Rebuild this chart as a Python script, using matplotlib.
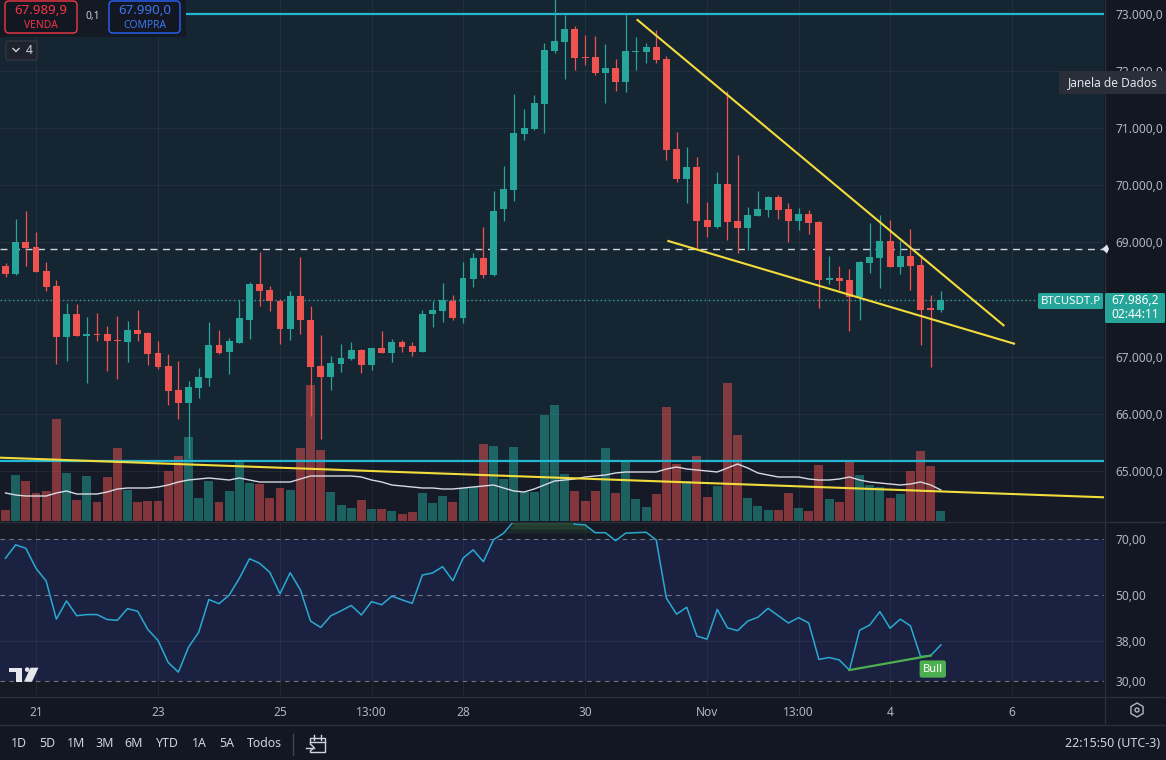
import numpy as np
import matplotlib
matplotlib.use("Agg")
import matplotlib.pyplot as plt
import matplotlib.transforms as mtransforms
from matplotlib.patches import FancyBboxPatch, Rectangle, Polygon, Circle, RegularPolygon
from matplotlib.lines import Line2D
from matplotlib.ticker import FixedLocator, NullLocator

plt.rcParams['font.family'] = ['Noto Sans', 'DejaVu Sans']

# ---------------- data (4h candles, index 0 = 21 Oct 01:00 UTC-3) ----------------
candle_index = list(range(-3, 90))
opens = [68595, 68455, 69014, 68927, 68507, 68245, 67341, 67755, 67358, 67388,
         67388, 67283, 67254, 67458, 67406, 67061, 66829, 66409, 66182, 66444,
         66619, 67196, 67074, 67243, 67650, 68280, 68175, 67982, 67476, 68070,
         67650, 66829, 66636, 66869, 66951, 67108, 66851, 67143, 67061, 67248,
         67178, 67074, 67743, 67796, 67982, 67668, 68368, 68734, 68437, 69591,
         69923, 70902, 70990, 71427, 72353, 72511, 72738, 72248, 72248, 71969,
         72056, 71811, 72336, 72336, 72423, 72214, 70640, 70116, 70325, 69399,
         69276, 70028, 69381, 69259, 69469, 69573, 69801, 69591, 69381, 69504,
         69364, 68350, 68385, 68350, 68053, 68647, 68734, 69032, 68577, 68769,
         68612, 67843, 67825]
highs = [68647, 69411, 69551, 69184, 68659, 68350, 67942, 67925, 67691, 67768,
         67528, 67720, 67628, 67825, 67428, 67278, 67039, 66916, 66567, 66794,
         67610, 67458, 67318, 68000, 68303, 68839, 68245, 68018, 68157, 68752,
         67895, 67371, 67004, 67219, 67248, 67138, 67156, 67441, 67301, 67283,
         67248, 67825, 67983, 68297, 68088, 68664, 68822, 69276, 69906, 70331,
         71602, 71339, 71584, 72498, 73400, 72983, 72790, 72633, 72616, 72476,
         72214, 73000, 72598, 72493, 72721, 72266, 70925, 70675, 70500, 69713,
         70238, 71654, 70535, 69626, 69906, 69818, 69836, 69696, 69609, 69574,
         69381, 68769, 68595, 68542, 68682, 69346, 69486, 69399, 69032, 69241,
         68787, 68088, 68157]
lows = [68402, 68425, 68582, 68490, 68145, 66864, 66921, 67353, 66537, 67271,
        66747, 66601, 66904, 67271, 66851, 66776, 66152, 65902, 65220, 66281,
        66479, 67039, 66689, 67243, 67313, 67883, 67796, 67219, 67289, 67388,
        65955, 65553, 66409, 66724, 66934, 66706, 66759, 67056, 66899, 67079,
        67009, 67074, 67516, 67598, 67650, 67586, 68215, 68385, 68420, 69381,
        69731, 70797, 70972, 70908, 72324, 71864, 72021, 72109, 71934, 71444,
        71654, 71637, 72021, 72144, 72144, 70448, 70051, 69696, 68874, 69102,
        69259, 69049, 68822, 68874, 69469, 69451, 69416, 69014, 69224, 69154,
        67843, 68280, 68175, 67441, 67650, 68472, 68210, 68577, 68455, 68175,
        67196, 66811, 67773]
closes = [68455, 69014, 68909, 68490, 68227, 67341, 67755, 67358, 67388, 67371,
          67271, 67275, 67458, 67388, 67044, 66811, 66392, 66182, 66462, 66636,
          67196, 67068, 67266, 67668, 68280, 68157, 67970, 67476, 68070, 67633,
          66811, 66636, 66886, 66969, 67108, 66851, 67143, 67056, 67248, 67166,
          67074, 67755, 67808, 67988, 67668, 68385, 68734, 68437, 69556, 69941,
          70920, 71007, 71444, 72371, 72528, 72738, 72231, 72231, 71969, 72056,
          71811, 72353, 72353, 72423, 72196, 70623, 70116, 70325, 69381, 69276,
          70028, 69364, 69259, 69486, 69591, 69801, 69573, 69381, 69504, 69346,
          68350, 68385, 68332, 68053, 68664, 68752, 69032, 68577, 68769, 68595,
          67825, 67825, 67986.2]
volumes = [1650, 6900, 6000, 4200, 4500, 15300, 7200, 3150, 6750, 2850,
           6600, 10950, 4650, 2850, 3000, 3000, 7500, 9750, 12600, 3450,
           6000, 2850, 4500, 9150, 5700, 5550, 3450, 4950, 4650, 10950,
           20400, 10650, 4350, 2400, 1950, 3150, 1800, 1800, 1500, 1050,
           1350, 4200, 2700, 3750, 2850, 4950, 5100, 11550, 11250, 6300,
           11100, 4350, 4350, 15900, 17400, 7050, 4500, 3000, 4500, 10950,
           4200, 8850, 3300, 2100, 4050, 17100, 8550, 6000, 9750, 3600,
           5250, 20700, 12900, 3450, 2250, 1650, 1650, 4200, 1950, 1500,
           8400, 3300, 2850, 9150, 6900, 5400, 5100, 3450, 4050, 7500,
           10500, 8250, 1500]
volume_ma = [4200, 3900, 3750, 3750, 3750, 4200, 4500, 4050, 4050, 4050,
             4350, 4800, 4950, 4950, 4950, 5100, 5400, 5850, 6150, 6300,
             6450, 6300, 6150, 6450, 6150, 5850, 5850, 5850, 5850, 6300,
             6750, 6750, 6750, 6750, 6750, 6600, 6150, 5850, 5400, 5250,
             5100, 4950, 4950, 4800, 4800, 4950, 5100, 5250, 5400, 4950,
             4500, 4350, 4800, 5400, 6000, 6150, 6300, 6600, 6750, 6900,
             7200, 7350, 7350, 7350, 7350, 7800, 8100, 7800, 7650, 7500,
             7350, 7950, 8550, 7950, 7200, 6900, 6600, 6600, 6600, 6300,
             6150, 6150, 6300, 6600, 6150, 5850, 5700, 5550, 5400, 5550,
             5850, 5400, 4650]
rsi = [62.5, 67.7, 66.3, 58.8, 54.5, 43.4, 48.4, 44.3, 44.6, 44.6,
       43.3, 43.1, 46.2, 45.5, 40.8, 38.2, 33.5, 31.6, 36.7, 40.1,
       48.8, 47.6, 50.1, 55.4, 62.3, 60.6, 57.4, 50.5, 57.3, 51.7,
       42.9, 41.3, 44.3, 45.6, 47.1, 44.5, 48.2, 47.3, 49.8, 48.7,
       47.7, 56.5, 57.2, 59.4, 54.6, 62.5, 65.7, 61.2, 69.8, 72.6,
       78.0, 80.0, 81.0, 84.0, 85.0, 82.0, 76.6, 76.3, 72.8, 72.8,
       69.4, 72.6, 72.8, 73.0, 69.7, 49.2, 44.7, 46.6, 39.2, 38.5,
       46.0, 41.2, 40.5, 42.9, 43.9, 46.3, 44.3, 42.4, 43.8, 42.4,
       34.1, 34.5, 34.0, 32.0, 40.6, 41.9, 45.4, 41.1, 43.4, 41.7,
       34.7, 34.9, 37.2]

time_tick_pos = [0, 12, 24, 33, 42, 54, 66, 75, 84, 96]
time_tick_labels = ['21', '23', '25', '13:00', '28', '30', 'Nov', '13:00', '4', '6']
price_ticks = [65000, 66000, 67000, 68000, 69000, 70000, 71000, 72000, 73000]
hidden_price_labels = [68000]          # covered by the last-price tag in the reference
rsi_ticks = [30, 38, 50, 70]
rsi_dashed = [30, 50, 70]
zone_levels = [73000, 65168]
alert_level = 68880
last_price = 67986.2
trend_upper = ([59.08, 95.24], [72907, 67537])
trend_lower = ([62.09, 96.29], [69030, 67222])
trend_volume = ([-3.54, 105.04], [65231, 64537])
bull_div = ([80, 88], [32.0, 34.9])

# ---------------- style ----------------
W, H = 1166, 760
GREEN, RED = '#26a69a', '#ef5350'
CYAN, YELLOW = '#25b6d2', '#f2dc3c'
TXT = '#b2b5be'
BG = '#131722'
PX = mtransforms.Affine2D().scale(1, -1).translate(0, H)   # pixel coords, y down

fig = plt.figure(figsize=(W / 100, H / 100), dpi=100, facecolor=BG)

XMIN, XMAX = -3.541, 105.04
P_LO, P_HI = 64122, 73245
ax = fig.add_axes([0, 1 - 521 / H, 1104 / W, 521 / H])
ax_r = fig.add_axes([0, 1 - 696 / H, 1104 / W, (696 - 522) / H])

for a in (ax, ax_r):
    a.set_xlim(XMIN, XMAX)
    for s in a.spines.values():
        s.set_visible(False)

x = np.array(candle_index, dtype=float)
o = np.array(opens, float); h = np.array(highs, float)
l = np.array(lows, float); c = np.array(closes, float)
v = np.array(volumes, float); vma = np.array(volume_ma, float)
r = np.array(rsi, float)
up = c >= o
cols = np.where(up, GREEN, RED)

# ---- price panel ----
ax.set_facecolor('#151a26')
ax.set_ylim(P_LO, P_HI)
ax.axhspan(zone_levels[1], P_HI + 500, color='#162532', lw=0, zorder=0)
for p in price_ticks:
    ax.axhline(p, color='white', alpha=0.055, lw=0.75, zorder=0.5)
for t in time_tick_pos:
    ax.axvline(t, color='white', alpha=0.055, lw=0.75, zorder=0.5)

# volume (bottom overlay)
vol_full = 521 * 150.0
vscale = (P_HI - P_LO) / vol_full
ax.bar(x, v * vscale, bottom=P_LO, width=0.88, color=cols, alpha=0.5, lw=0, zorder=1)
ax.plot(x, P_LO + vma * vscale, color='#d6d9e0', lw=1.0, zorder=2)

# horizontal levels
ax.axhline(alert_level, color='#d1d4dc', lw=1.0, ls=(0, (5, 4)), zorder=2.5)
ax.axhline(last_price, color=GREEN, lw=1.0, ls=(0, (1, 2)), zorder=2.5)

# candles
ax.vlines(x, l, h, colors=cols, lw=0.9, zorder=4)
body_b = np.minimum(o, c)
body_h = np.maximum(np.abs(c - o), 20)
ax.bar(x, body_h, bottom=body_b, width=0.68, color=cols, lw=0, zorder=5)

# zone lines and trend lines
for lv in zone_levels:
    ax.axhline(lv, color=CYAN, lw=1.6, zorder=3)
ax.plot(*trend_upper, color=YELLOW, lw=1.5, zorder=6, solid_capstyle='butt')
ax.plot(*trend_lower, color=YELLOW, lw=1.5, zorder=6, solid_capstyle='butt')
ax.plot(*trend_volume, color=YELLOW, lw=1.5, zorder=3)

def fmt_price(val):
    s = f"{val:,.1f}"
    return s.replace(',', 'X').replace('.', ',').replace('X', '.')

ax.yaxis.set_major_locator(FixedLocator(price_ticks))
ax.set_yticklabels(['' if p in hidden_price_labels else fmt_price(p) for p in price_ticks])
ax.yaxis.set_ticks_position('right')
ax.tick_params(axis='y', length=0, pad=8, labelcolor=TXT, labelsize=8.6)
ax.set_xticks(time_tick_pos)
ax.tick_params(axis='x', length=0, labelbottom=False)

# ---- RSI panel ----
ax_r.set_facecolor('#161a25')
ax_r.set_yscale('log')
ax_r.set_ylim(27.4, 77.6)
ax_r.axhspan(30, 70, color='#1b2241', lw=0, zorder=0)
for t in time_tick_pos:
    ax_r.axvline(t, color='white', alpha=0.055, lw=0.75, zorder=0.5)
ax_r.axhline(38, color='white', alpha=0.06, lw=0.75, zorder=0.5)
for lv in rsi_dashed:
    ax_r.axhline(lv, color='#8a8d96', lw=0.8, ls=(0, (4, 4)), alpha=0.8, zorder=1)
for lo_, hi_, al in [(72.5, 74.5, 0.15), (74.5, 76.5, 0.3), (76.5, 90, 0.45)]:
    ax_r.fill_between(x, lo_, np.minimum(r, hi_), where=r > lo_, interpolate=True,
                      color='#3f8f4c', alpha=al, lw=0, zorder=1.5)
ax_r.plot(x, r, color='#2aa9d2', lw=1.1, zorder=3)
ax_r.plot(*bull_div, color='#4caf50', lw=1.6, zorder=3.5)
ax_r.text(88.2, 32.2, 'Bull', ha='center', va='center', color='white', fontsize=8,
          fontweight='bold', zorder=5,
          bbox=dict(boxstyle='round,pad=0.28,rounding_size=0.2', fc='#4caf50', ec='none'))

ax_r.yaxis.set_major_locator(FixedLocator(rsi_ticks))
ax_r.yaxis.set_minor_locator(NullLocator())
ax_r.set_yticklabels([f"{t:.2f}".replace('.', ',') for t in rsi_ticks])
ax_r.yaxis.set_ticks_position('right')
ax_r.tick_params(axis='y', which='both', length=0, pad=8, labelcolor=TXT, labelsize=8.6)
ax_r.set_xticks(time_tick_pos)
ax_r.set_xticklabels(time_tick_labels)
ax_r.tick_params(axis='x', length=0, pad=7, labelcolor=TXT, labelsize=8.6)

# ---------------- overlay chrome (pixel coords) ----------------
def line(x0, y0, x1, y1, color='#2a2e39', lw=1.0, z=10):
    fig.add_artist(Line2D([x0, x1], [y0, y1], transform=PX, color=color, lw=lw, zorder=z))

def box(x0, y0, x1, y1, fc, ec='none', lw=1.0, rad=0.0, z=10):
    if rad > 0:
        p = FancyBboxPatch((x0 + rad, y0 + rad), x1 - x0 - 2 * rad, y1 - y0 - 2 * rad,
                           boxstyle=f'round,pad={rad}', fc=fc, ec=ec, lw=lw,
                           transform=PX, zorder=z)
    else:
        p = Rectangle((x0, y0), x1 - x0, y1 - y0, fc=fc, ec=ec, lw=lw, transform=PX, zorder=z)
    fig.add_artist(p)

def text(xp, yp, s, color='#d1d4dc', size=8.6, ha='center', va='center', weight='normal', z=11):
    fig.text(xp, yp, s, transform=PX, color=color, fontsize=size, ha=ha, va=va,
             fontweight=weight, zorder=z)

# separators
line(1104.5, 0, 1104.5, 724)
line(0, 521.5, 1166, 521.5)
line(0, 696.5, 1166, 696.5)
line(0, 724.5, 1166, 724.5)

# top-left bid/ask widget
box(0, 0, 186, 37, '#141a24', z=9)
box(5, 1, 77, 33, '#131722', '#f23645', 1.0, rad=4)
text(41, 11, '67.989,9', color='#f23645', size=9.6)
text(41, 25, 'VENDA', color='#f23645', size=7.4)
text(93, 17, '0,1', color='#c8cbd2', size=7.4)
box(109, 1, 180, 33, '#131722', '#2962ff', 1.0, rad=4)
text(144.5, 11, '67.990,0', color='#3a78f2', size=9.6)
text(144.5, 25, 'COMPRA', color='#3a78f2', size=7.4)
box(6, 41, 37, 60, '#1e222d', '#363a45', 0.8, rad=2)
fig.add_artist(Line2D([13, 16, 19], [48.5, 51.5, 48.5], transform=PX, color='#d1d4dc', lw=1.0, zorder=11))
text(29, 50.5, '4', color='#d1d4dc', size=8.6, weight='bold')

# Janela de Dados tooltip
box(1059, 71, 1166, 94, '#2a2e39', z=12)
text(1112.5, 82.5, 'Janela de Dados', color='#e0e3eb', size=8.6, z=13)

# last price labels
box(1038, 293, 1103, 309, GREEN, rad=1.5)
text(1070.5, 301, 'BTCUSDT.P', color='white', size=8.2, weight='bold')
box(1105, 293, 1165, 323, GREEN, rad=1.5)
text(1135, 301, '67.986,2', color='white', size=8.6, weight='bold')
text(1135, 315, '02:44:11', color='white', size=8.6)

# alert marker on the axis
fig.add_artist(Polygon([(1102, 249), (1107, 244.5), (1109, 249), (1107, 253.5)], closed=True,
                       transform=PX, fc='#e0e3eb', ec='none', zorder=11))

# TradingView logo
box(9, 667.7, 21.7, 672.3, '#e6e8ee', z=11)
box(16, 667.7, 21.7, 681.7, '#e6e8ee', z=11)
fig.add_artist(Circle((27.2, 669.6), 2.3, transform=PX, fc='#e6e8ee', ec='none', zorder=11))
fig.add_artist(Polygon([(30.5, 667.7), (38.5, 667.7), (32, 681.7), (24, 681.7)], closed=True,
                       transform=PX, fc='#e6e8ee', ec='none', zorder=11))

# settings icon
fig.add_artist(RegularPolygon((1137, 710), 6, radius=7, orientation=0, transform=PX,
                              fc='none', ec='#b2b5be', lw=1.0, zorder=11))
fig.add_artist(Circle((1137, 710), 2, transform=PX, fc='none', ec='#b2b5be', lw=1.0, zorder=11))

# bottom toolbar
for lbl, xc in [('1D', 19), ('5D', 47), ('1M', 76), ('3M', 105), ('6M', 134),
                ('YTD', 167), ('1A', 199.5), ('5A', 227), ('Todos', 264)]:
    text(xc, 743.5, lbl, color='#d1d4dc', size=8.9)
line(293, 734, 293, 755, color='#434651')
# calendar icon
box(310, 738, 325, 752, 'none', '#d1d4dc', 1.0, z=11)
line(310, 742, 325, 742, color='#d1d4dc')
line(314, 735, 314, 739.5, color='#d1d4dc')
line(321, 735, 321, 739.5, color='#d1d4dc')
box(306, 745, 312, 750, '#131722', z=11.5)
line(306, 747.5, 314, 747.5, color='#d1d4dc', z=12)
fig.add_artist(Line2D([311.5, 314, 311.5], [745, 747.5, 750], transform=PX, color='#d1d4dc', lw=1.0, zorder=12))
text(1160, 743.5, '22:15:50 (UTC-3)', color='#d1d4dc', size=9, ha='right')

fig.savefig('out.png', dpi=100, facecolor=BG)
